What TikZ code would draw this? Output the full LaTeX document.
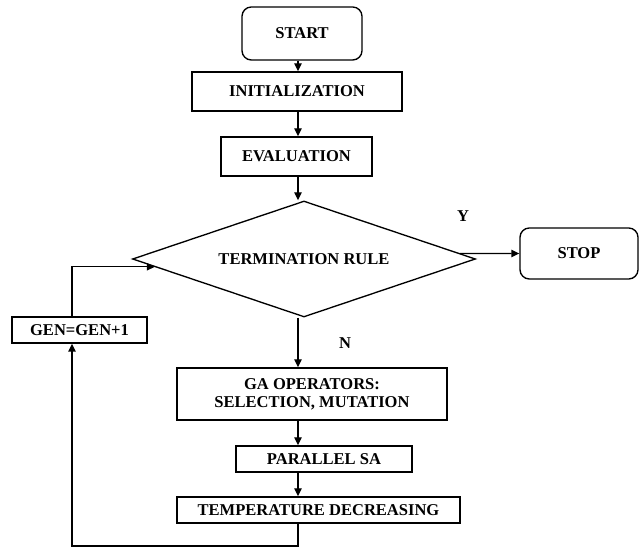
\documentclass[tikz,border=0pt]{standalone}
\usepackage{fontspec}
\setmainfont{Liberation Serif}
\usetikzlibrary{shapes.geometric,arrows.meta}

\tikzset{every picture/.style={line width=1pt}}

\begin{document}
\begin{tikzpicture}[x=0.75pt,y=0.75pt,yscale=-1,xscale=1,
  font=\fontsize{12.4}{13.5}\selectfont\bfseries,
  proc/.style={draw,rectangle,inner sep=0pt,align=center},
  term/.style={draw,rectangle,rounded corners=7pt,inner sep=0pt},
  decide/.style={draw,diamond,aspect=3,inner sep=0pt},
  arr/.style={-{Triangle[length=6pt,width=5.5pt]}}]
\useasboundingbox (0,0) rectangle (639,548);

%Flowchart: Terminator
\node [term,minimum width=90pt,minimum height=39.75pt] (start) at (302,33.5) {START};
%Flowchart: Process
\node [proc,minimum width=157.5pt,minimum height=29.25pt] (init) at (297,91.5) {INITIALIZATION};
%Flowchart: Process
\node [proc,minimum width=113.25pt,minimum height=29.25pt] (eval) at (296.5,156.5) {EVALUATION};
%Flowchart: Decision
\node [decide,minimum width=257.25pt,minimum height=87pt] (cond) at (304,259) {TERMINATION\ RULE};
%Flowchart: Terminator
\node [term,minimum width=88.5pt,minimum height=38.25pt] (stop) at (579,253.5) {STOP};
%Flowchart: Process
\node [proc,minimum width=101.25pt,minimum height=19.5pt] (gen) at (79.5,330) {GEN=GEN+1};
%Flowchart: Process
\node [proc,minimum width=202.5pt,minimum height=39pt] (ga) at (312,394) {GA OPERATORS:\\SELECTION, MUTATION};
%Flowchart: Process
\node [proc,minimum width=132pt,minimum height=19.5pt] (par) at (324,459) {PARALLEL SA};
%Flowchart: Process
\node [proc,minimum width=212.25pt,minimum height=19.5pt] (temp) at (318.5,510) {TEMPERATURE DECREASING};

% Text Node
\node (yes) at (463,216) {Y};
% Text Node
\node (no) at (345,343) {N};

\coordinate (col) at (298,0);
\coordinate (base) at (72,546);

%Straight Lines
\draw [arr] (start.south -| col) -- (init.north -| col);
\draw [arr] (init.south -| col) -- (eval.north -| col);
\draw [arr] (eval.south -| col) -- (cond.north -| col);
\draw [arr] (cond.2) -- (stop.west);
\draw [arr] (cond.south -| col) -- (ga.north -| col);
\draw [arr] (ga.south -| col) -- (par.north -| col);
\draw [arr] (par.south -| col) -- (temp.north -| col);
%Loop back
\draw [arr] (temp.south -| col) |- (base) -- (gen.south -| base);
\draw [arr] (gen.north -| base) |- (cond.183);

\end{tikzpicture}
\end{document}
